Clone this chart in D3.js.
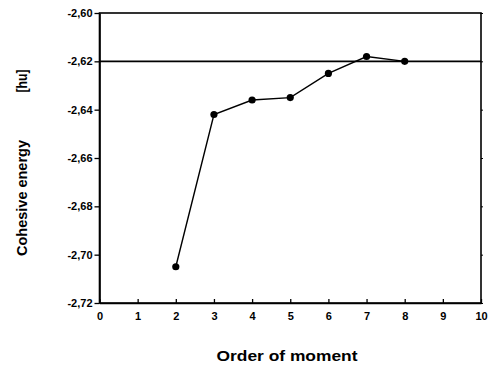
<!DOCTYPE html>
<html>
<head>
<meta charset="utf-8">
<script src="https://cdn.jsdelivr.net/npm/d3@7"></script>
<style>
    body { margin: 0; background: #fff; }
    svg { display: block; font-family: "Liberation Sans", Arial, sans-serif; font-weight: bold; }
</style>
</head>
<body>
<div id="chart"></div>
<script>
    var orders = [2, 3, 4, 5, 6, 7, 8];
    var energies = [-2.705, -2.642, -2.636, -2.635, -2.625, -2.618, -2.620];
    var refLevel = -2.62;
    var xTicks = [0, 1, 2, 3, 4, 5, 6, 7, 8, 9, 10];
    var yTicks = [-2.60, -2.62, -2.64, -2.66, -2.68, -2.70, -2.72];

    var width = 489, height = 366;
    var margin = { top: 13, right: 8, bottom: 63, left: 99.5 };
    var w = width - margin.left - margin.right;
    var h = height - margin.top - margin.bottom;

    var svg = d3.select("#chart").append("svg")
        .attr("width", width)
        .attr("height", height);

    var g = svg.append("g")
        .attr("transform", "translate(" + margin.left + "," + margin.top + ")");

    var x = d3.scaleLinear().domain([0, 10]).range([0, w]);
    var y = d3.scaleLinear().domain([-2.72, -2.60]).range([h, 0]);

    var fmt = function (d) { return d3.format(".2f")(d).replace(".", ",").replace("−", "-"); };

    // frame
    g.append("rect")
        .attr("width", w)
        .attr("height", h)
        .attr("fill", "none")
        .attr("stroke", "#000")
        .attr("stroke-width", 1.6);

    // x axis, ticks pointing inward
    var xAxis = g.append("g")
        .attr("transform", "translate(0," + h + ")")
        .call(d3.axisBottom(x).tickValues(xTicks).tickSizeInner(-4).tickSizeOuter(0).tickPadding(9));
    xAxis.select(".domain").attr("stroke-width", 1.6);
    xAxis.selectAll("line").attr("stroke-width", 1.3);
    xAxis.selectAll("text")
        .style("font-size", "11px")
        .style("font-family", "Liberation Sans, Arial, sans-serif")
        .style("font-weight", "bold");

    // y axis, ticks outward
    var yAxis = g.append("g")
        .call(d3.axisLeft(y).tickValues(yTicks).tickFormat(fmt).tickSizeInner(5).tickSizeOuter(0).tickPadding(2));
    yAxis.select(".domain").attr("stroke-width", 1.6);
    yAxis.selectAll("line").attr("stroke-width", 1.3);
    yAxis.selectAll("text")
        .style("font-size", "11px")
        .style("font-family", "Liberation Sans, Arial, sans-serif")
        .style("font-weight", "bold");

    // small ticks on right side
    g.append("g")
        .attr("transform", "translate(" + w + ",0)")
        .call(d3.axisRight(y).tickValues(yTicks).tickSizeInner(2).tickSizeOuter(0).tickFormat(""))
        .select(".domain").remove();

    // reference line
    g.append("line")
        .attr("x1", 0)
        .attr("x2", w)
        .attr("y1", y(refLevel))
        .attr("y2", y(refLevel))
        .attr("stroke", "#000")
        .attr("stroke-width", 1.6);

    var pts = orders.map(function (d, i) { return { o: d, e: energies[i] }; });

    var line = d3.line()
        .x(function (d) { return x(d.o); })
        .y(function (d) { return y(d.e); });

    g.append("path")
        .datum(pts)
        .attr("d", line)
        .attr("fill", "none")
        .attr("stroke", "#000")
        .attr("stroke-width", 1.4);

    g.selectAll(".pt")
        .data(pts)
        .enter()
        .append("circle")
        .attr("class", "pt")
        .attr("cx", function (d) { return x(d.o); })
        .attr("cy", function (d) { return y(d.e); })
        .attr("r", 3.6)
        .attr("fill", "#000");

    // axis titles (scan is stretched, so fix the lengths)
    svg.append("text")
        .attr("x", 287)
        .attr("y", 361)
        .attr("text-anchor", "middle")
        .attr("textLength", 141)
        .attr("lengthAdjust", "spacingAndGlyphs")
        .style("font-size", "15px")
        .text("Order of moment");

    svg.append("text")
        .attr("transform", "translate(27,198) rotate(-90)")
        .attr("text-anchor", "middle")
        .attr("textLength", 116)
        .attr("lengthAdjust", "spacingAndGlyphs")
        .style("font-size", "14px")
        .text("Cohesive energy");

    svg.append("text")
        .attr("transform", "translate(27,81) rotate(-90)")
        .attr("text-anchor", "middle")
        .attr("textLength", 23)
        .attr("lengthAdjust", "spacingAndGlyphs")
        .style("font-size", "14px")
        .text("[hu]");
</script>
</body>
</html>
